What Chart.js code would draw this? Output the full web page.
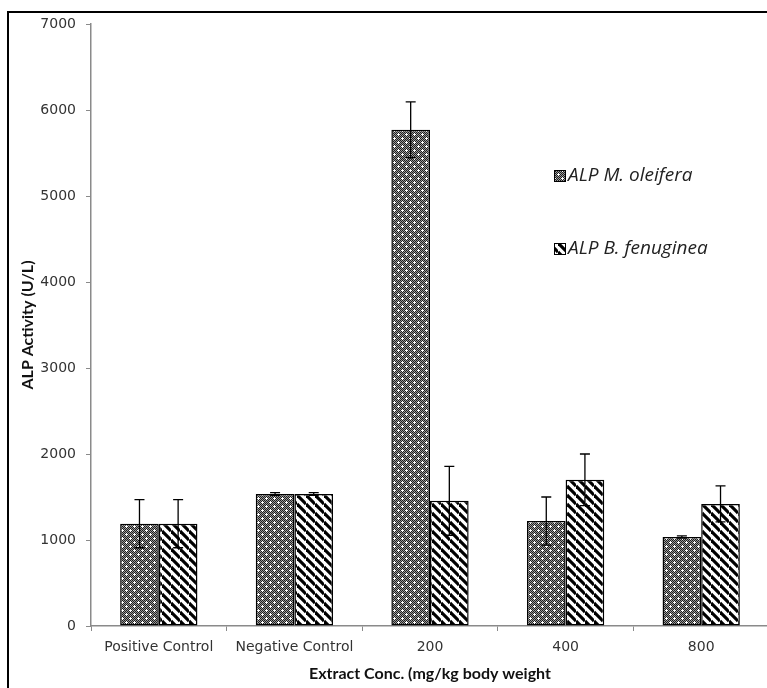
<!DOCTYPE html>
<html>
<head>
<meta charset="utf-8">
<script src="https://cdn.jsdelivr.net/npm/chart.js@4.4.0/dist/chart.umd.min.js"></script>
<style>
  html, body { margin: 0; padding: 0; background: #fff; overflow: hidden; width: 767px; height: 688px; }
  #frame { position: absolute; left: 7px; top: 11px; width: 820px; height: 720px; border: 2px solid #000; box-sizing: border-box; }
  #chart { position: absolute; left: 0; top: 0; }
</style>
</head>
<body>
<div id="frame"></div>
<canvas id="chart" width="780" height="688"></canvas>
<script>
// values
const categories = ['Positive Control', 'Negative Control', '200', '400', '800'];
const oleifera = [1190, 1535, 5770, 1220, 1035];
const oleiferaErr = [280, 15, 325, 280, 12];
const fenuginea = [1190, 1535, 1455, 1700, 1420];
const fenugineaErr = [280, 15, 400, 300, 210];
const seriesNames = ['ALP M. oleifera', 'ALP B. fenuginea'];

// fill patterns
function dotPattern() {
  const c = document.createElement('canvas');
  c.width = 8; c.height = 8;
  const g = c.getContext('2d');
  for (let i = 0; i < 8; i++) {
    for (let j = 0; j < 8; j++) {
      g.fillStyle = (i + j) % 2 === 0 ? '#1e1e1e' : '#9a9a9a';
      g.fillRect(i, j, 1, 1);
    }
  }
  g.fillStyle = '#fff';
  [[2, 2], [6, 6]].forEach(([x, y]) => {
    g.fillRect(x, y - 1, 1, 3);
    g.fillRect(x - 1, y, 3, 1);
  });
  return g.createPattern(c, 'repeat');
}

function stripePattern() {
  const c = document.createElement('canvas');
  c.width = 9; c.height = 9;
  const g = c.getContext('2d');
  g.fillStyle = '#fff';
  g.fillRect(0, 0, 9, 9);
  g.strokeStyle = '#000';
  g.lineWidth = 3.2;
  [-9, 0, 9].forEach(o => {
    g.beginPath();
    g.moveTo(0, o);
    g.lineTo(9, o + 9);
    g.stroke();
  });
  return g.createPattern(c, 'repeat');
}

const fills = [dotPattern(), stripePattern()];

// error bars drawn on top of the bars
const errorBars = {
  id: 'errorBars',
  afterDatasetsDraw(chart) {
    const ctx = chart.ctx;
    const y = chart.scales.y;
    ctx.save();
    ctx.strokeStyle = '#000';
    ctx.lineWidth = 1.3;
    chart.data.datasets.forEach((ds, di) => {
      const meta = chart.getDatasetMeta(di);
      meta.data.forEach((bar, i) => {
        const v = ds.data[i], e = ds.errors[i];
        const top = y.getPixelForValue(v + e), bot = y.getPixelForValue(v - e);
        ctx.beginPath();
        ctx.moveTo(bar.x, top); ctx.lineTo(bar.x, bot);
        ctx.moveTo(bar.x - 5, top); ctx.lineTo(bar.x + 5, top);
        ctx.moveTo(bar.x - 5, bot); ctx.lineTo(bar.x + 5, bot);
        ctx.stroke();
      });
    });
    ctx.restore();
  }
};

// legend inside the plot, stacked with a big gap
const sideLegend = {
  id: 'sideLegend',
  afterDraw(chart) {
    const ctx = chart.ctx;
    ctx.save();
    ctx.font = 'italic 19px "Open Sans"';
    ctx.textBaseline = 'middle';
    chart.data.datasets.forEach((ds, i) => {
      const yc = 176 + i * 73;
      ctx.fillStyle = fills[i];
      ctx.fillRect(554, yc - 6, 12, 12);
      ctx.strokeStyle = '#000';
      ctx.lineWidth = 1;
      ctx.strokeRect(554.5, yc - 5.5, 11, 11);
      ctx.fillStyle = '#222';
      ctx.fillText(ds.label, 568, yc);
    });
    ctx.restore();
  }
};

const tickFont = { family: 'DejaVu Sans', size: 14 };
const titleFont = { family: 'Lato', size: 16, weight: 'bold' };
const axisGray = '#8a8a8a';

new Chart(document.getElementById('chart'), {
  type: 'bar',
  data: {
    labels: categories,
    datasets: [
      { label: seriesNames[0], data: oleifera, errors: oleiferaErr, backgroundColor: fills[0] },
      { label: seriesNames[1], data: fenuginea, errors: fenugineaErr, backgroundColor: fills[1] }
    ].map(d => Object.assign(d, {
      borderColor: '#000',
      borderWidth: 1.5,
      borderSkipped: false,
      categoryPercentage: 0.57,
      barPercentage: 1.0
    }))
  },
  options: {
    responsive: false,
    animation: false,
    layout: { padding: { left: 0, top: 24, right: 11, bottom: 0 } },
    plugins: {
      legend: { display: false },
      tooltip: { enabled: false }
    },
    scales: {
      x: {
        ticks: { color: '#333', font: tickFont, padding: 8, maxRotation: 0, autoSkip: false },
        grid: { drawOnChartArea: false, tickLength: 5, color: axisGray, offset: true },
        border: { color: axisGray, width: 1.5 },
        title: { display: true, text: 'Extract Conc. (mg/kg body weight', color: '#111', font: titleFont, padding: { bottom: 5 } },
        afterFit(s) { s.height = 62; }
      },
      y: {
        min: 0,
        max: 7000,
        ticks: { stepSize: 1000, color: '#333', font: tickFont, padding: 10, callback: v => String(v) },
        grid: { drawOnChartArea: false, tickLength: 5, color: axisGray },
        border: { color: axisGray, width: 1.5 },
        title: { display: true, text: 'ALP Activity (U/L)', color: '#111', font: titleFont, padding: { top: 18 } },
        afterFit(s) { s.width = 91; }
      }
    }
  },
  plugins: [errorBars, sideLegend]
});
</script>
</body>
</html>
